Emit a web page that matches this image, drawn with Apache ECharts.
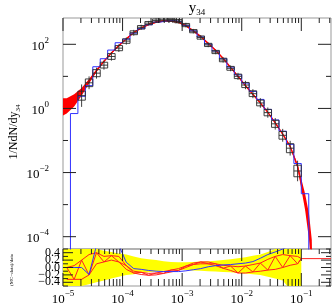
<!DOCTYPE html>
<html><head><meta charset="utf-8">
<script src="https://cdn.jsdelivr.net/npm/echarts@6.0.0/dist/echarts.min.js"></script>
<style>html,body{margin:0;padding:0;background:#fff;}#chart{width:332px;height:306px;}</style>
</head><body><div id="chart"></div>
<script>
// ---------------- data ----------------
const binsPerDecade = 8;
const firstEdgeExp = -5;
const nBins = 33;

// data points (per bin, index 0..32), value and log10 half-errors
const dataVal  = [null,null,2.5,6.3,12.6,22.4,41.7,75.9,126,229,339,457,550,603,589,525,398,257,162,95.5,57.5,32.4,17.8,10.0,5.37,2.88,1.48,0.741,0.331,0.145,0.0575,0.0112,null];
const dataStat = [null,null,0.14,0.12,0.11,0.09,0.09,0.08,0.07,0.06,0.055,0.05,0.05,0.05,0.05,0.05,0.05,0.05,0.05,0.05,0.05,0.055,0.06,0.07,0.08,0.09,0.09,0.1,0.11,0.12,0.14,0.18,null];
const dataTot  = [null,null,0.35,0.2,0.17,0.14,0.13,0.12,0.11,0.09,0.08,0.07,0.07,0.07,0.07,0.07,0.07,0.07,0.07,0.07,0.07,0.08,0.09,0.11,0.13,0.14,0.15,0.16,0.18,0.2,0.23,0.32,null];

// blue MC histogram (per bin)
const blueVal = [null,0.692,2.40,5.13,19.95,35.5,66.1,112,145,224,309,407,490,537,550,501,389,263,170,102,61.7,35.5,19.5,11.2,6.17,3.39,1.91,0.933,0.437,0.195,0.0759,0.0191,0.00219];

// red MC band: x positions = left edge, bin centres, tail points
const mcTailX = [0.135, 0.15];
const mcVal = [1.12,1.2,1.78,3.3,7.08,15.1,29.5,53.7,91.2,148,234,324,417,490,537,537,490,380,263,174,107,64.6,36.3,19.1,10.0,5.13,2.75,1.48,0.759,0.355,0.158,0.0661,0.0158,0.00126,0.0002,0.000025];
const mcErr = [0.27,0.24,0.19,0.12,0.07,0.045,0.032,0.025,0.025,0.025,0.025,0.025,0.025,0.025,0.025,0.025,0.025,0.025,0.025,0.025,0.025,0.025,0.025,0.025,0.025,0.025,0.025,0.025,0.025,0.025,0.03,0.035,0.07,0.25,0.4,0.5];

// ratio panel (per bin, index 0..31)
const yelHi = [0.6,0.6,0.6,0.6,0.5,0.45,0.42,0.38,0.35,0.3,0.25,0.22,0.2,0.17,0.15,0.14,0.14,0.15,0.16,0.17,0.18,0.2,0.22,0.25,0.28,0.32,0.35,0.42,0.5,0.6,0.6,0.6];
const yelLo = [-0.6,-0.55,-0.5,-0.45,-0.4,-0.35,-0.3,-0.25,-0.2,-0.18,-0.15,-0.13,-0.1,-0.09,-0.08,-0.07,-0.07,-0.08,-0.09,-0.1,-0.11,-0.12,-0.13,-0.15,-0.16,-0.18,-0.2,-0.25,-0.3,-0.35,-0.6,-0.6];
const redHi = [0.0,0.05,0.2,0.35,0.4,0.3,0.32,0.3,0.05,-0.1,-0.13,-0.16,-0.15,-0.11,-0.07,-0.03,0.04,0.12,0.15,0.15,0.1,0.06,0.04,0.02,0.04,0.08,0.12,0.22,0.3,0.35,0.32,0.3];
const redLo = [-0.32,-0.32,-0.32,-0.2,0.1,0.15,0.2,0.15,-0.05,-0.15,-0.19,-0.21,-0.2,-0.16,-0.12,-0.08,0.0,0.08,0.1,0.1,0.05,-0.02,-0.08,-0.15,-0.15,-0.12,-0.1,-0.07,-0.05,0.0,0.06,0.1];
const redTail = 0.24;
const blueRatio = [0,0,0,-0.19,0.6,0.6,0.6,0.6,0.14,-0.03,-0.05,-0.08,-0.1,-0.11,-0.11,-0.11,-0.09,-0.06,-0.03,0.02,0.05,0.07,0.08,0.1,0.12,0.16,0.25,0.35,0.42,0.5,0.6,0.6];

// tick labels
const xLabelExps = [-5,-4,-3,-2,-1];
const yLabelExps = [-4,-2,0,2];
const ratioLabels = [-0.4,-0.2,0.0,0.2,0.4];

// ---------------- derived geometry helpers ----------------
const FONT = 'Liberation Serif';
const X_MIN = 1e-5, X_MAX = 0.315;
const Y_MIN = 4.13e-5, Y_MAX = 661;
const edges = [], centers = [];
for (let j = 0; j <= nBins; j++) edges.push(Math.pow(10, firstEdgeExp + j / binsPerDecade));
for (let i = 0; i < nBins; i++) centers.push(Math.pow(10, firstEdgeExp + (i + 0.5) / binsPerDecade));

const mcX = [X_MIN].concat(centers, mcTailX);
const mcHi = mcVal.map((v, k) => v * Math.pow(10, mcErr[k]));
const mcLo = mcVal.map((v, k) => v / Math.pow(10, mcErr[k]));

function polygonSeries(xi, xs, hi, lo, color, z) {
  return {
    type: 'custom', xAxisIndex: xi, yAxisIndex: xi, z: z, clip: true, silent: true,
    data: [[xs[0], hi[0]]],
    renderItem: function (params, api) {
      const pts = [];
      for (let k = 0; k < xs.length; k++) pts.push(api.coord([xs[k], hi[k]]));
      for (let k = xs.length - 1; k >= 0; k--) pts.push(api.coord([xs[k], lo[k]]));
      return { type: 'polygon', shape: { points: pts }, style: { fill: color } };
    }
  };
}

// blue histogram step points
const bluePts = [];
{
  let started = false;
  for (let i = 0; i < nBins; i++) {
    const v = blueVal[i];
    if (v == null) continue;
    if (!started) { bluePts.push([edges[i], 1e-8]); started = true; }
    bluePts.push([edges[i], v], [edges[i + 1], v]);
  }
  bluePts.push([edges[nBins], 1e-8]);
}

// data items
const dataItems = [];
dataVal.forEach((v, i) => { if (v != null) dataItems.push([centers[i], v, i]); });

// ratio lines
const nR = yelHi.length;
const rc = centers.slice(0, nR);
const yelX = [edges[0]].concat(rc, [edges[nR]]);
const yelH = [yelHi[0]].concat(yelHi, [yelHi[nR - 1]]);
const yelL = [yelLo[0]].concat(yelLo, [yelLo[nR - 1]]);
const redHiPts = rc.map((x, i) => [x, redHi[i]]).concat([[edges[nR], redTail]]);
const redLoPts = rc.map((x, i) => [x, redLo[i]]).concat([[edges[nR], redTail]]);
const zigPts = rc.map((x, i) => [x, i % 2 === 0 ? redHi[i] : redLo[i]]).concat([[edges[nR], redTail]]);
const tailPts = [[edges[nR], redTail], [X_MAX, redTail]];
const blueRPts = rc.map((x, i) => [x, blueRatio[i]]);

// tick lists
const xTickList = [];
for (let e = -5; e <= -1; e++) {
  xTickList.push([Math.pow(10, e), 1]);
  for (let m = 2; m <= 9; m++) { const v = m * Math.pow(10, e); if (v < X_MAX) xTickList.push([v, 0]); }
}
const yTickList = [];
for (let e = -4; e <= 2; e++) yTickList.push([Math.pow(10, e), yLabelExps.includes(e) ? 1 : 0]);
const rTickList = [];
for (let n = -5; n <= 5; n++) rTickList.push([n / 10, n % 2 === 0 ? 1 : 0]);

const TICK = '#222';
function xTickSeries(gi, yRef, list, topLen, botLen) {
  return {
    type: 'custom', xAxisIndex: gi, yAxisIndex: gi, silent: true, z: 10, clip: false,
    data: list.map(t => [t[0], yRef, t[1]]), encode: { x: 0, y: 1 },
    renderItem: function (params, api) {
      const cs = params.coordSys;
      const x = api.coord([api.value(0), yRef])[0];
      const mj = api.value(2) === 1;
      const tl = mj ? topLen[0] : topLen[1], bl = mj ? botLen[0] : botLen[1];
      const ch = [];
      if (tl > 0) ch.push({ type: 'line', shape: { x1: x, y1: cs.y, x2: x, y2: cs.y + tl }, style: { stroke: TICK, lineWidth: 1 } });
      if (bl > 0) ch.push({ type: 'line', shape: { x1: x, y1: cs.y + cs.height, x2: x, y2: cs.y + cs.height - bl }, style: { stroke: TICK, lineWidth: 1 } });
      return { type: 'group', children: ch };
    }
  };
}
function yTickSeries(gi, xRef, list, lens) {
  return {
    type: 'custom', xAxisIndex: gi, yAxisIndex: gi, silent: true, z: 10, clip: false,
    data: list.map(t => [xRef, t[0], t[1]]), encode: { x: 0, y: 1 },
    renderItem: function (params, api) {
      const cs = params.coordSys;
      const y = api.coord([xRef, api.value(1)])[1];
      const len = api.value(2) === 1 ? lens[0] : lens[1];
      return { type: 'group', children: [
        { type: 'line', shape: { x1: cs.x, y1: y, x2: cs.x + len, y2: y }, style: { stroke: TICK, lineWidth: 1 } },
        { type: 'line', shape: { x1: cs.x + cs.width, y1: y, x2: cs.x + cs.width - len, y2: y }, style: { stroke: TICK, lineWidth: 1 } }
      ] };
    }
  };
}

function powLabel(exps) {
  return function (v) {
    const l = Math.log10(v); const e = Math.round(l);
    if (Math.abs(l - e) > 1e-3 || !exps.includes(e)) return '';
    return '{b|10}{s|' + (e < 0 ? '\u2212' + (-e) : String(e)) + '}';
  };
}
const powRich = {
  b: { fontSize: 13, fontFamily: FONT, color: '#000', lineHeight: 17, verticalAlign: 'bottom' },
  s: { fontSize: 9, fontFamily: FONT, color: '#000', lineHeight: 10, verticalAlign: 'top' }
};

const option = {
  animation: false,
  backgroundColor: '#fff',
  grid: [
    { left: 63, top: 18, width: 268, height: 231, show: true, borderColor: '#999', borderWidth: 1, backgroundColor: 'transparent' },
    { left: 63, top: 249, width: 268, height: 40, show: true, borderColor: '#999', borderWidth: 1, backgroundColor: 'transparent' }
  ],
  xAxis: [
    { type: 'log', gridIndex: 0, min: X_MIN, max: X_MAX, axisLine: { show: false }, axisTick: { show: false }, axisLabel: { show: false }, splitLine: { show: false } },
    { type: 'log', gridIndex: 1, min: X_MIN, max: X_MAX, splitNumber: 5, axisLine: { show: false }, axisTick: { show: false }, splitLine: { show: false },
      axisLabel: { show: true, margin: 3, showMinLabel: true, showMaxLabel: false, formatter: powLabel(xLabelExps), rich: powRich } }
  ],
  yAxis: [
    { type: 'log', gridIndex: 0, min: Y_MIN, max: Y_MAX, splitNumber: 7, axisLine: { show: false }, axisTick: { show: false }, splitLine: { show: false },
      axisLabel: { show: true, margin: 14, showMinLabel: false, showMaxLabel: false, formatter: powLabel(yLabelExps), rich: powRich } },
    { type: 'value', gridIndex: 1, min: -0.5, max: 0.5, interval: 0.1, axisLine: { show: false }, axisTick: { show: false }, splitLine: { show: false },
      axisLabel: { show: true, margin: 3, fontSize: 12, fontFamily: FONT, color: '#000', showMinLabel: false, showMaxLabel: false,
        formatter: function (v) {
          const n = Math.round(v * 10);
          const hit = ratioLabels.find(r => Math.round(r * 10) === n);
          if (hit === undefined) return '';
          return n < 0 ? '\u2212' + (-hit).toFixed(1) : hit.toFixed(1);
        } } }
  ],
  graphic: [
    { type: 'text', x: 197, y: 9, style: { text: '{a|y}{s|34}', align: 'center', verticalAlign: 'middle',
      rich: { a: { fontSize: 15, fontFamily: FONT, fill: '#000', color: '#000', lineHeight: 16, verticalAlign: 'top' },
              s: { fontSize: 9, fontFamily: FONT, fill: '#000', color: '#000', lineHeight: 9, verticalAlign: 'bottom' } } } },
    { type: 'text', x: 15, y: 132, rotation: Math.PI / 2, style: { text: '{a|1/NdN/dy}{s|34}', align: 'center', verticalAlign: 'middle',
      rich: { a: { fontSize: 12, fontFamily: FONT, fill: '#000', color: '#000', lineHeight: 14, verticalAlign: 'top' },
              s: { fontSize: 7, fontFamily: FONT, fill: '#000', color: '#000', lineHeight: 8, verticalAlign: 'bottom' } } } },
    { type: 'text', x: 12, y: 270, rotation: Math.PI / 2, style: { text: '(MC\u2212data)/data', fontSize: 5, fontFamily: FONT, fill: '#000', align: 'center', verticalAlign: 'middle' } }
  ],
  series: [
    // main panel
    polygonSeries(0, mcX, mcHi, mcLo, '#ff0000', 2),
    { type: 'line', xAxisIndex: 0, yAxisIndex: 0, z: 2, data: mcX.map((x, k) => [x, mcVal[k]]), showSymbol: false, symbol: 'none',
      lineStyle: { color: '#ff0000', width: 1.2 }, silent: true },
    { type: 'line', xAxisIndex: 0, yAxisIndex: 0, z: 3, data: bluePts, showSymbol: false, symbol: 'none',
      lineStyle: { color: '#3030ff', width: 1 }, silent: true },
    {
      type: 'custom', xAxisIndex: 0, yAxisIndex: 0, z: 4, clip: true, silent: true, data: dataItems,
      renderItem: function (params, api) {
        const i = api.value(2), v = api.value(1), xc = api.value(0);
        const s = Math.pow(10, dataStat[i]), t = Math.pow(10, dataTot[i]);
        const a = api.coord([edges[i], v * s]), b = api.coord([edges[i + 1], v / s]);
        const c = api.coord([xc, v]);
        const th = api.coord([xc, v * t]), tl = api.coord([xc, v / t]);
        const st = { stroke: '#2a2a2a', lineWidth: 0.9, fill: null };
        return { type: 'group', children: [
          { type: 'rect', shape: { x: a[0], y: a[1], width: b[0] - a[0], height: b[1] - a[1] }, style: st },
          { type: 'line', shape: { x1: a[0], y1: c[1], x2: b[0], y2: c[1] }, style: st },
          { type: 'line', shape: { x1: c[0], y1: th[1], x2: c[0], y2: tl[1] }, style: st }
        ] };
      }
    },
    // ratio panel
    polygonSeries(1, yelX, yelH, yelL, '#ffff00', 1),
    { type: 'line', xAxisIndex: 1, yAxisIndex: 1, z: 3, data: redHiPts, symbol: 'none', lineStyle: { color: '#ff2020', width: 1 }, silent: true },
    { type: 'line', xAxisIndex: 1, yAxisIndex: 1, z: 3, data: redLoPts, symbol: 'none', lineStyle: { color: '#ff2020', width: 1 }, silent: true },
    { type: 'line', xAxisIndex: 1, yAxisIndex: 1, z: 3, data: zigPts, symbol: 'none', lineStyle: { color: '#ff2020', width: 1 }, silent: true },
    { type: 'line', xAxisIndex: 1, yAxisIndex: 1, z: 3, data: tailPts, symbol: 'none', lineStyle: { color: '#ff2020', width: 1 }, silent: true },
    { type: 'line', xAxisIndex: 1, yAxisIndex: 1, z: 4, data: blueRPts, symbol: 'none', lineStyle: { color: '#3030ff', width: 1 }, silent: true },
    // ticks
    xTickSeries(0, 1, xTickList, [13, 5], [0, 0]),
    yTickSeries(0, 1e-3, yTickList, [13, 5]),
    xTickSeries(1, 0, xTickList, [12, 5], [13, 7]),
    yTickSeries(1, 1e-3, rTickList, [10, 5])
  ]
};

const chart = echarts.init(document.getElementById('chart'), null, { renderer: 'canvas' });
chart.setOption(option);
</script>
</body></html>
